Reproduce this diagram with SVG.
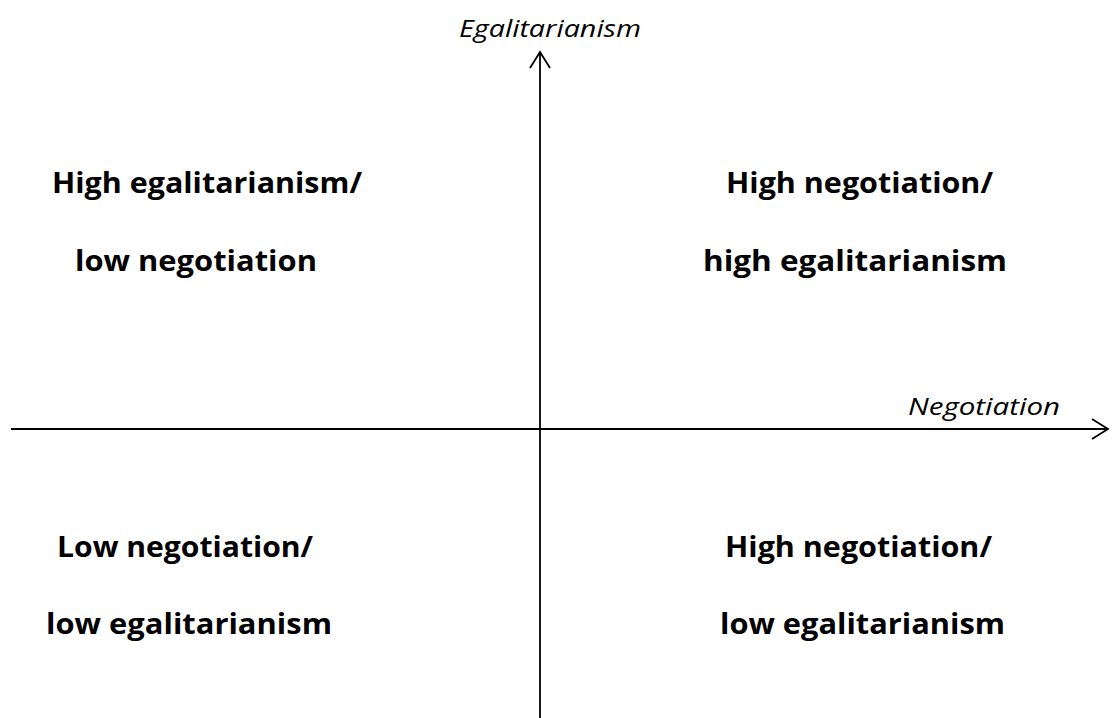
<svg xmlns="http://www.w3.org/2000/svg" width="1113" height="718" viewBox="0 0 1113 718">
  <defs>
    <style>
      .axis { stroke: #000; stroke-width: 1.8; fill: none; }
      .q { font-family: "Open Sans", "Liberation Sans", sans-serif; font-weight: bold; font-size: 29px; fill: #000; }
      .lab { font-family: "Open Sans", "Liberation Sans", sans-serif; font-style: italic; font-size: 24px; fill: #000; }
    </style>
    <marker id="open" markerUnits="userSpaceOnUse" markerWidth="24" markerHeight="24" viewBox="-20 -12 24 24" refX="0" refY="0" orient="auto">
      <path d="M-16,-10 L0,0 L-16,10" fill="none" stroke="#000" stroke-width="1.8"/>
    </marker>
  </defs>
  <rect width="1113" height="718" fill="#fff"/>
  <g id="connectors">
    <line class="axis" x1="11" y1="429" x2="1108" y2="429" marker-end="url(#open)"/>
    <line class="axis" x1="540" y1="718" x2="540" y2="52" marker-end="url(#open)"/>
  </g>
  <g id="axis-labels">
    <text class="lab" x="459" y="37" textLength="182" lengthAdjust="spacingAndGlyphs">Egalitarianism</text>
    <text class="lab" x="908" y="415" textLength="152" lengthAdjust="spacingAndGlyphs">Negotiation</text>
  </g>
  <g id="q-top-left">
    <text class="q" x="52" y="193" textLength="310" lengthAdjust="spacingAndGlyphs">High egalitarianism/</text>
    <text class="q" x="75" y="271" textLength="242" lengthAdjust="spacingAndGlyphs">low negotiation</text>
  </g>
  <g id="q-top-right">
    <text class="q" x="726" y="193" textLength="267" lengthAdjust="spacingAndGlyphs">High negotiation/</text>
    <text class="q" x="703" y="271" textLength="304" lengthAdjust="spacingAndGlyphs">high egalitarianism</text>
  </g>
  <g id="q-bottom-left">
    <text class="q" x="57" y="557" textLength="256" lengthAdjust="spacingAndGlyphs">Low negotiation/</text>
    <text class="q" x="46" y="634" textLength="286" lengthAdjust="spacingAndGlyphs">low egalitarianism</text>
  </g>
  <g id="q-bottom-right">
    <text class="q" x="725" y="557" textLength="267" lengthAdjust="spacingAndGlyphs">High negotiation/</text>
    <text class="q" x="720" y="634" textLength="285" lengthAdjust="spacingAndGlyphs">low egalitarianism</text>
  </g>
</svg>
